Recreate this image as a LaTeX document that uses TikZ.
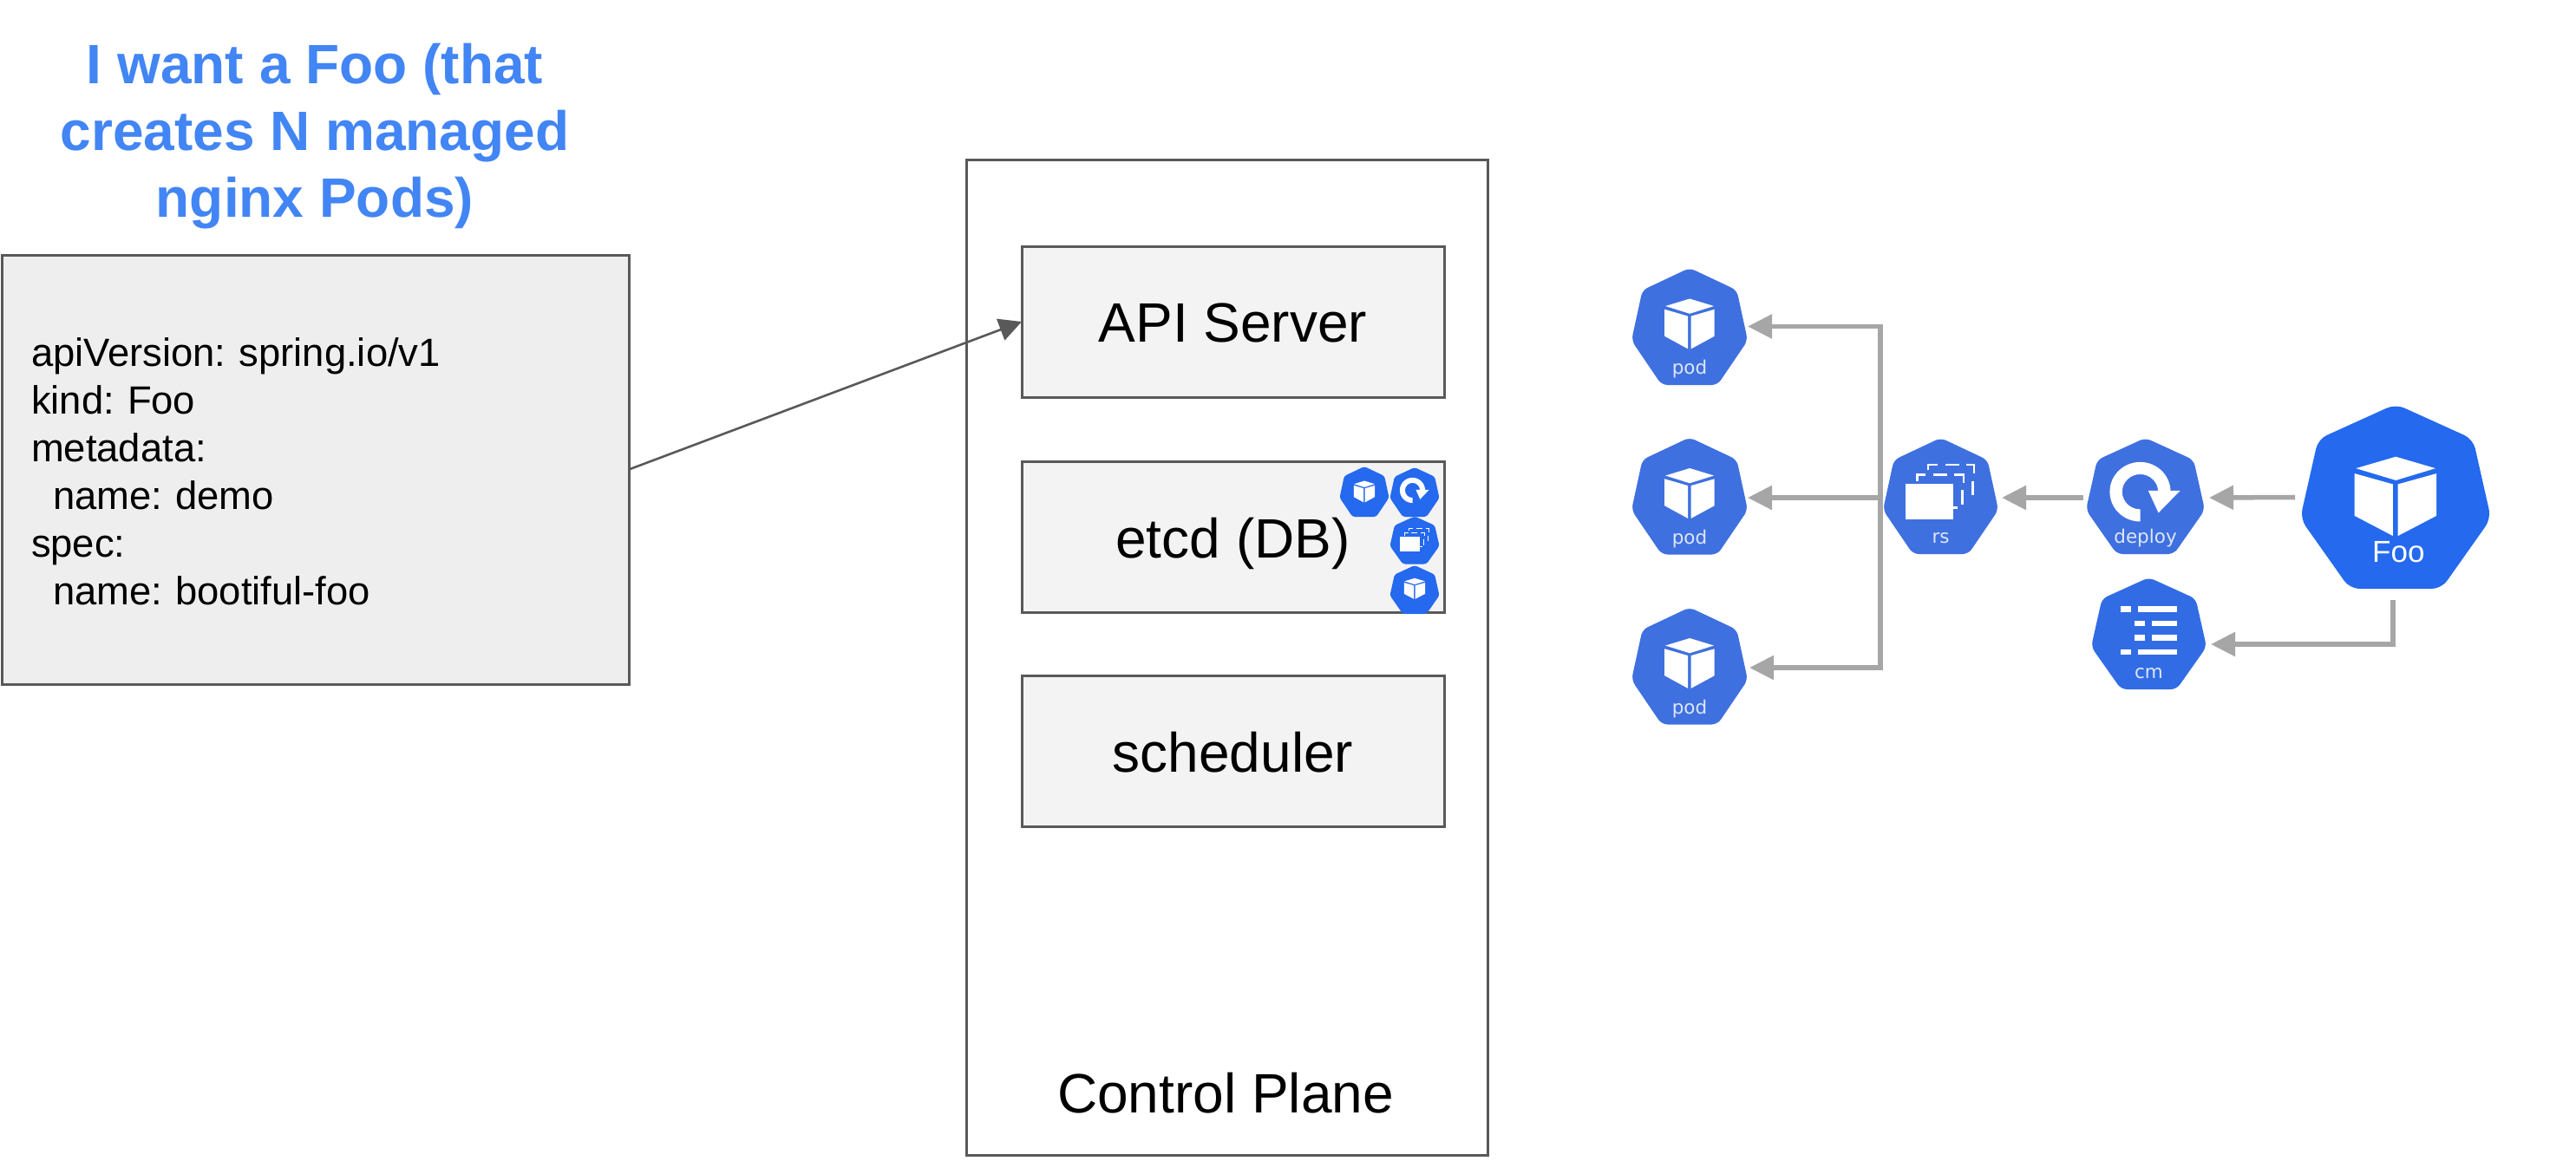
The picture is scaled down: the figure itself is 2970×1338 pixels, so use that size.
\documentclass[tikz,border=0pt]{standalone}
\usepackage{fontspec}
\setmainfont{Liberation Sans}
\newfontfamily\iconfont{DejaVu Sans}
\usetikzlibrary{arrows.meta}
\definecolor{edgegrey}{HTML}{595959}
\definecolor{arrowgrey}{HTML}{A6A6A6}
\definecolor{titleblue}{HTML}{4285F4}
\definecolor{podblue}{HTML}{3F70DF}
\definecolor{cmblue}{HTML}{326CE5}
\definecolor{fooblue}{HTML}{2469EE}
\definecolor{labelpale}{HTML}{DDE7F9}
\tikzset{
  yamlbox/.style={draw=edgegrey,line width=3pt,fill=yamlfill,minimum width=723pt,minimum height=495pt,inner xsep=34pt,inner ysep=0pt,outer sep=0pt,text width=655pt,align=left,font=\fontsize{45.4}{55}\selectfont},
  planebox/.style={draw=edgegrey,line width=3pt,fill=white,minimum width=601pt,minimum height=1148pt,inner sep=0pt,outer sep=0pt},
  compbox/.style={draw=edgegrey,line width=3pt,fill=compfill,minimum width=487pt,minimum height=174pt,inner sep=0pt,outer sep=0pt,font=\fontsize{64}{70}\selectfont},
  iconbox/.style={inner sep=0pt,outer sep=0pt},
  requestarrow/.style={draw=edgegrey,line width=2.6pt,-{Triangle[length=26pt,width=26pt]}},
  ownerarrow/.style={draw=arrowgrey,line width=5.5pt,-{Triangle[length=28pt,width=27pt]}},
  glyphline/.style={draw=white,line width=\glyphlw,line cap=butt},
}
\definecolor{yamlfill}{HTML}{EEEEEE}
\definecolor{compfill}{HTML}{F3F3F3}
\newcommand\cubeglyph[1][0]{%
  \begin{scope}[shift={(0,#1)}]
    \fill[white] (.501,.285) -- (.709,.348) -- (.501,.413) -- (.292,.348) -- cycle;
    \fill[white] (.285,.376) -- (.486,.434) -- (.486,.714) -- (.285,.605) -- cycle;
    \fill[white] (.512,.434) -- (.714,.376) -- (.714,.605) -- (.512,.714) -- cycle;
  \end{scope}}
\newcommand\deployglyph{%
  \fill[white] (.456,.464) ++(90:.256) arc[start angle=90,end angle=360,radius=.256]
    -- (.456+.151,.464) arc[start angle=360,end angle=90,radius=.151] -- cycle;
  \fill[white] (.524,.454) -- (.793,.454) -- (.61,.645) -- cycle;}
\newcommand\rsglyph{%
  \fill[white] (.195,.392) rectangle (.6125,.7);
  \draw[glyphline] (.39,.273) -- (.39,.231) -- (.47,.231);
  \draw[glyphline] (.54,.231) -- (.665,.231);
  \draw[glyphline] (.725,.231) -- (.7875,.231) -- (.7875,.305);
  \draw[glyphline] (.7775,.372) -- (.7775,.496);
  \draw[glyphline] (.2975,.372) -- (.2975,.318) -- (.37,.318);
  \draw[glyphline] (.4325,.318) -- (.5575,.318);
  \draw[glyphline] (.62,.318) -- (.6975,.318) -- (.6975,.385);
  \draw[glyphline] (.6875,.447) -- (.6875,.571);
  \draw[glyphline] (.6125,.6) -- (.65,.6);}
\newcommand\cmglyph{%
  \fill[white] (.2525,.258) rectangle (.3425,.307);
  \fill[white] (.4025,.258) rectangle (.745,.307);
  \fill[white] (.3775,.387) rectangle (.4675,.433);
  \fill[white] (.5275,.387) rectangle (.745,.433);
  \fill[white] (.3775,.513) rectangle (.4675,.562);
  \fill[white] (.5275,.513) rectangle (.745,.562);
  \fill[white] (.2525,.642) rectangle (.3425,.691);
  \fill[white] (.4025,.642) rectangle (.745,.691);}
\newcommand\kubelabel[2]{\node[anchor=base,inner sep=0pt,text=labelpale,font=\iconfont\fontsize{21.5}{24}\selectfont] (\iconname-label) at (.5,#1) {#2};}
% name, cx, cy, w, h, colour, glyph code
\newcommand\kubeicon[7]{%
  \def\iconname{#1}%
  \node[iconbox,minimum width=#4pt,minimum height=#5pt] (#1) at (#2,#3) {};
  \pgfmathsetlengthmacro\glyphlw{#4*0.0175}%
  \begin{scope}[shift={({#2-#4/2},{#3-#5/2})},x=#4pt,y=-#5pt]
    \fill[#6,rounded corners=#4*0.05pt] (.5,0) -- (.906,.19) -- (1,.62) -- (.74,1) -- (.26,1) -- (0,.62) -- (.094,.19) -- cycle;
    #7
  \end{scope}}
\begin{document}
\frenchspacing
\begin{tikzpicture}[x=1pt,y=-1pt]
\useasboundingbox (0,0) rectangle (2970,1338);
% title
\node[align=center,text=titleblue,inner sep=0pt,font=\bfseries\fontsize{64}{77}\selectfont] (title) at (363,157) {I want a Foo (that\\creates N managed\\nginx Pods)};
% manifest
\node[yamlbox] (yaml) at (363.5,541.5) {\rule{0pt}{37pt}apiVersion: spring.io/v1\\kind: Foo\\metadata:\\\hspace*{25pt}name: demo\\spec:\\\hspace*{25pt}name: bootiful-foo};
% control plane
\node[planebox] (plane) at (1414.5,758) {};
\node[inner sep=0pt,font=\fontsize{64}{70}\selectfont] (planelabel) at (1413,1261) {Control Plane};
\node[compbox] (api) at (1421.5,371) {\raisebox{-1.5pt}[\height][\depth]{API Server}};
\node[compbox] (etcd) at (1421.5,619.5) {\raisebox{-7pt}[\height][\depth]{etcd (DB)}};
\node[compbox] (sched) at (1421.5,866) {\raisebox{-1.5pt}[\height][\depth]{scheduler}};
\kubeicon{etcdfoo}{1573}{567}{57}{58}{fooblue}{\cubeglyph}
\kubeicon{etcddeploy}{1631}{567.5}{57}{57}{fooblue}{\deployglyph}
\kubeicon{etcdrs}{1631}{623}{57}{55}{fooblue}{\begin{scope}[shift={(0,.03)}]\rsglyph\end{scope}}
\kubeicon{etcdpod}{1631}{680}{57}{56}{fooblue}{\cubeglyph[-.02]}
% resources
\kubeicon{pod1}{1948}{376.5}{134}{135}{podblue}{\cubeglyph[-.022]\kubelabel{.91}{pod}}
\kubeicon{pod2}{1948}{572}{134}{135}{podblue}{\cubeglyph[-.022]\kubelabel{.91}{pod}}
\kubeicon{pod3}{1948}{768}{134}{135}{podblue}{\cubeglyph[-.022]\kubelabel{.91}{pod}}
\kubeicon{rs}{2237.5}{572}{133}{134}{podblue}{\rsglyph\kubelabel{.905}{rs}}
\kubeicon{deploy}{2473.5}{572}{137}{134}{podblue}{\deployglyph\kubelabel{.905}{deploy}}
\kubeicon{cm}{2477.5}{730.5}{133}{129}{cmblue}{\cmglyph\kubelabel{.905}{cm}}
\kubeicon{foo}{2762}{572.5}{220}{213}{fooblue}{\cubeglyph
  \node[anchor=base,inner sep=0pt,text=white,font=\fontsize{35}{38}\selectfont] (foo-label) at (.515,.855) {Foo};}
% connectors
\draw[requestarrow] (yaml.east) -- (api.west);
\coordinate (trunk) at ([xshift=-3pt,yshift=-2pt]rs.west);
\draw[ownerarrow] (trunk) -- ([yshift=-2pt]pod2.east);
\draw[ownerarrow] (trunk) |- (pod1.east);
\draw[ownerarrow,shorten >=2pt] (trunk) |- ([yshift=-2pt]pod3.east);
\draw[ownerarrow,shorten <=3pt,shorten >=4pt] ([yshift=-2pt]deploy.west) -- ([yshift=-2pt]rs.east);
\draw[ownerarrow,shorten <=6pt,shorten >=5pt] ([yshift=-1pt]foo.west) -- ([yshift=-2pt]deploy.east);
\draw[ownerarrow,shorten <=13pt,shorten >=5pt] ([xshift=-3pt]foo.south) |- ([yshift=-12.5pt]cm.east);
\end{tikzpicture}
\end{document}
